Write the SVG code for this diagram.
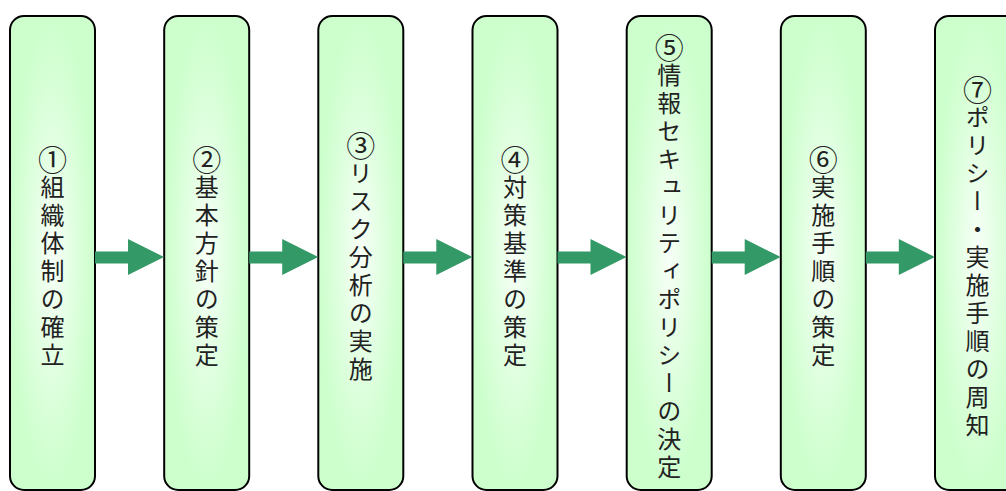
<svg xmlns="http://www.w3.org/2000/svg" xmlns:xlink="http://www.w3.org/1999/xlink" width="1006" height="491" viewBox="0 0 1006 491">
<style>
.box{fill:url(#g);stroke:#000;stroke-width:2}
.lbl{font-family:"Noto Sans CJK JP","Noto Sans CJK SC",sans-serif;font-size:24px;letter-spacing:4px;fill:#222;writing-mode:vertical-rl;text-anchor:middle}
.num{font-size:29px;letter-spacing:1px}
.arr{fill:#339966}
</style>
<defs>
<radialGradient id="g" cx="0.5" cy="0.5" r="0.5">
<stop offset="0" stop-color="#f8fff8"/>
<stop offset="0.6" stop-color="#dcffdc"/>
<stop offset="1" stop-color="#ccffcc"/>
</radialGradient>
<polygon id="arr" points="0,251.5 33,251.5 33,239 69,257 33,275 33,263.5 0,263.5"/>
</defs>
<rect width="1006" height="491" fill="#fff"/>
<g id="n1"><rect class="box" x="10" y="16" width="85" height="474" rx="14"/><text class="lbl" x="52.5" y="258"><tspan class="num">①</tspan>組織体制の確立</text></g>
<g id="n2"><rect class="box" x="164.2" y="16" width="85" height="474" rx="14"/><text class="lbl" x="206.7" y="258"><tspan class="num">②</tspan>基本方針の策定</text></g>
<g id="n3"><rect class="box" x="318.3" y="16" width="85" height="474" rx="14"/><text class="lbl" x="360.8" y="258"><tspan class="num">③</tspan>リスク分析の実施</text></g>
<g id="n4"><rect class="box" x="472.5" y="16" width="85" height="474" rx="14"/><text class="lbl" x="515" y="258"><tspan class="num">④</tspan>対策基準の策定</text></g>
<g id="n5"><rect class="box" x="626.7" y="16" width="85" height="474" rx="14"/><text class="lbl" x="669.2" y="258"><tspan class="num">⑤</tspan>情報セキュリティポリシーの決定</text></g>
<g id="n6"><rect class="box" x="780.8" y="16" width="85" height="474" rx="14"/><text class="lbl" x="823.3" y="258"><tspan class="num">⑥</tspan>実施手順の策定</text></g>
<g id="n7"><rect class="box" x="935" y="16" width="85" height="474" rx="14"/><text class="lbl" x="977.5" y="258"><tspan class="num">⑦</tspan>ポリシー・実施手順の周知</text></g>
<g id="connectors" class="arr">
<use xlink:href="#arr" x="95"/>
<use xlink:href="#arr" x="249.2"/>
<use xlink:href="#arr" x="403.3"/>
<use xlink:href="#arr" x="557.5"/>
<use xlink:href="#arr" x="711.7"/>
<use xlink:href="#arr" x="865.8"/>
</g>
</svg>
